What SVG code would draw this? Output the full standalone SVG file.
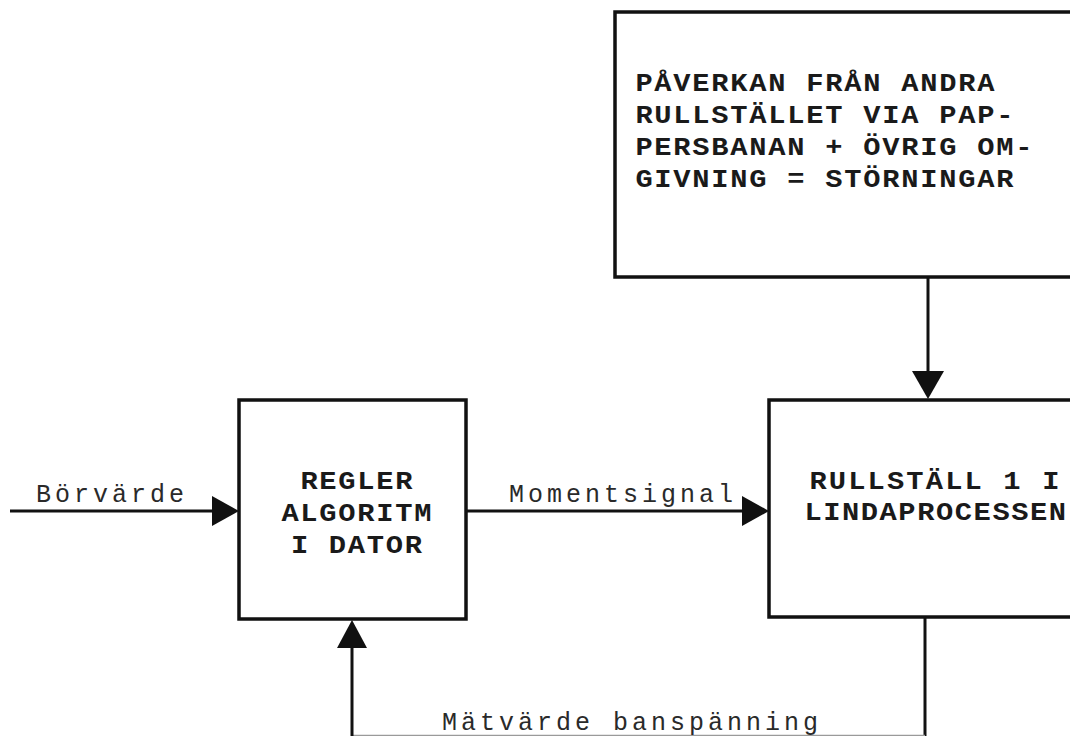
<svg xmlns="http://www.w3.org/2000/svg" width="1070" height="736" viewBox="0 0 1070 736">
  <style>
    .box { fill: #ffffff; stroke: #111111; stroke-width: 3.5; }
    .line { fill: none; stroke: #111111; stroke-width: 3; }
    .faint { fill: none; stroke: #9a9a9a; stroke-width: 1.2; }
    .head { fill: #111111; stroke: none; }
    .btxt { font-family: "Liberation Mono", "DejaVu Sans Mono", monospace; font-weight: bold; font-size: 25px; text-anchor: middle; fill: #1a1a1a; }
    .ltxt { font-family: "Liberation Mono", "DejaVu Sans Mono", monospace; font-size: 25px; letter-spacing: 4px; fill: #2a2a2a; }
  </style>
  <rect width="1070" height="736" fill="#ffffff"/>

  <g id="connectors">
    <line class="line" x1="928" y1="277" x2="928" y2="372"/>
    <polygon class="head" points="912,371 944,371 928,399"/>
    <line class="line" x1="10" y1="511" x2="213" y2="511"/>
    <polygon class="head" points="212,496 212,526 239,511"/>
    <line class="line" x1="466" y1="511" x2="743" y2="511"/>
    <polygon class="head" points="742,496 742,526 769,511"/>
    <line class="line" x1="925" y1="617" x2="925" y2="736"/>
    <line class="faint" x1="352" y1="735.4" x2="925" y2="735.4"/>
    <line class="line" x1="352" y1="736" x2="352" y2="647"/>
    <polygon class="head" points="337,648 367,648 352,620"/>
  </g>

  <g id="node-disturbance">
    <rect class="box" x="615" y="12" width="500" height="265"/>
    <text class="btxt" transform="translate(644,91) scale(1.15,1)" x="0 16.52 33.04 49.57 66.09 82.61 99.13 115.65 132.17 148.7 165.22 181.74 198.26 214.78 231.3 247.83 264.35 280.87 297.39">PÅVERKAN FRÅN ANDRA</text>
    <text class="btxt" transform="translate(644,123) scale(1.15,1)" x="0 16.52 33.04 49.57 66.09 82.61 99.13 115.65 132.17 148.7 165.22 181.74 198.26 214.78 231.3 247.83 264.35 280.87 297.39 313.91">RULLSTÄLLET VIA PAP-</text>
    <text class="btxt" transform="translate(644,155) scale(1.15,1)" x="0 16.52 33.04 49.57 66.09 82.61 99.13 115.65 132.17 148.7 165.22 181.74 198.26 214.78 231.3 247.83 264.35 280.87 297.39 313.91 330.43">PERSBANAN + ÖVRIG OM-</text>
    <text class="btxt" transform="translate(644,187) scale(1.15,1)" x="0 16.52 33.04 49.57 66.09 82.61 99.13 115.65 132.17 148.7 165.22 181.74 198.26 214.78 231.3 247.83 264.35 280.87 297.39 313.91">GIVNING = STÖRNINGAR</text>
  </g>

  <g id="node-controller">
    <rect class="box" x="239" y="400" width="227" height="219"/>
    <text class="btxt" transform="translate(309,489) scale(1.15,1)" x="0 16.52 33.04 49.57 66.09 82.61">REGLER</text>
    <text class="btxt" transform="translate(290,521) scale(1.15,1)" x="0 16.52 33.04 49.57 66.09 82.61 99.13 115.65">ALGORITM</text>
    <text class="btxt" transform="translate(299.5,553) scale(1.15,1)" x="0 16.52 33.04 49.57 66.09 82.61 99.13">I DATOR</text>
  </g>

  <g id="node-process">
    <rect class="box" x="769" y="400" width="400" height="217"/>
    <text class="btxt" transform="translate(818,489) scale(1.15,1)" x="0 16.87 33.74 50.61 67.48 84.35 101.22 118.09 134.96 151.83 168.7 185.57 202.44">RULLSTÄLL 1 I</text>
    <text class="btxt" transform="translate(813,520) scale(1.15,1)" x="0 16.35 32.7 49.05 65.4 81.75 98.1 114.45 130.8 147.15 163.5 179.85 196.2 212.55">LINDAPROCESSEN</text>
  </g>

  <g id="labels">
    <text class="ltxt" x="36" y="502">Börvärde</text>
    <text class="ltxt" x="509" y="502">Momentsignal</text>
    <text class="ltxt" x="442" y="730">Mätvärde banspänning</text>
  </g>
</svg>
